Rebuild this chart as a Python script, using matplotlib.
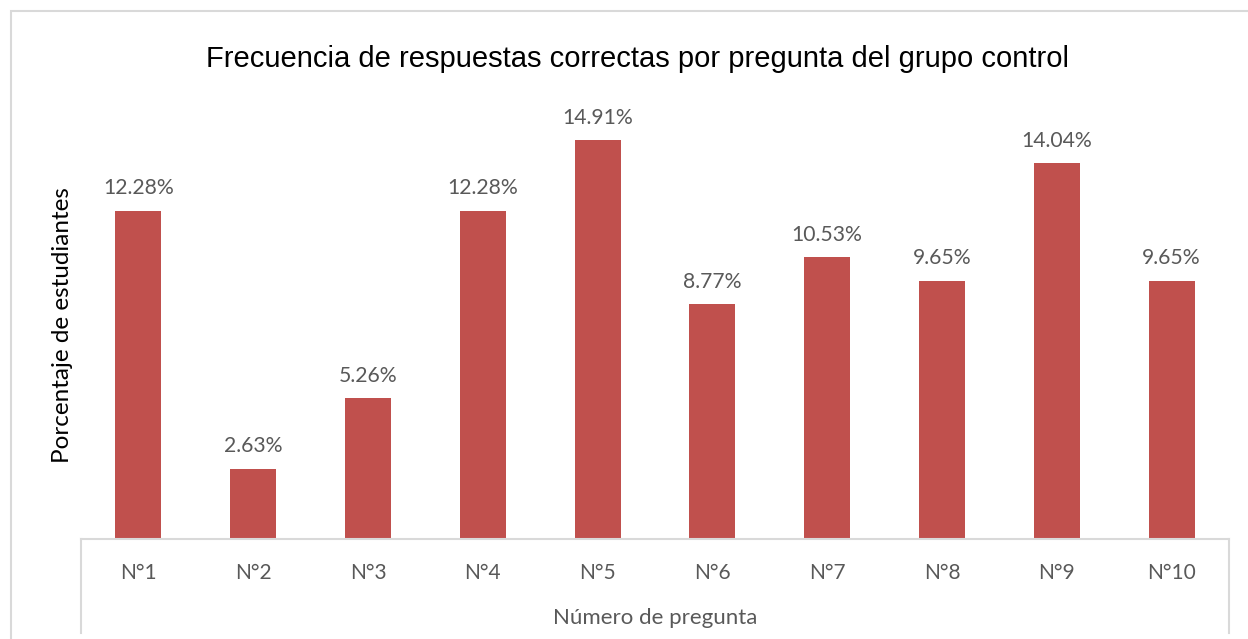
import matplotlib
matplotlib.use("Agg")
import matplotlib.pyplot as plt
from matplotlib.patches import Rectangle
from matplotlib.lines import Line2D

preguntas = ["N°1", "N°2", "N°3", "N°4", "N°5", "N°6", "N°7", "N°8", "N°9", "N°10"]
porcentajes = [12.28, 2.63, 5.26, 12.28, 14.91, 8.77, 10.53, 9.65, 14.04, 9.65]

bar_color = "#C0504D"
text_color = "#595959"
line_color = "#D9D9D9"
label_font = ["Lato", "DejaVu Sans"]

W, H = 1248, 639
fig = plt.figure(figsize=(W / 100, H / 100), dpi=100)

# outer chart border (cropped at right and bottom)
fig.patches.append(Rectangle((11 / W, -0.1), 2, (H - 11) / H + 0.1, transform=fig.transFigure,
                             fill=False, edgecolor=line_color, linewidth=1.5))

ax = fig.add_axes([81 / W, 100 / H, (1229 - 81) / W, (539 - 111) / H])
x = list(range(len(preguntas)))
bars = ax.bar(x, porcentajes, width=0.4, color=bar_color)
ax.set_xlim(-0.5, len(preguntas) - 0.5)
ax.set_ylim(0, 16)

for rect, v in zip(bars, porcentajes):
    ax.annotate("%.2f%%" % v, (rect.get_x() + rect.get_width() / 2, v), xytext=(0, 9),
                textcoords="offset points", ha="center", va="bottom",
                fontsize=15.2, color=text_color, family=label_font)

for s in ["top", "left", "right"]:
    ax.spines[s].set_visible(False)
ax.spines["bottom"].set_color(line_color)
ax.spines["bottom"].set_linewidth(1.5)
ax.set_yticks([])
ax.set_xticks(x)
ax.set_xticklabels(preguntas, fontsize=15, color=text_color, family=label_font)
ax.tick_params(axis="x", length=0, pad=17)

# vertical edges of the category axis area
ext = (633 - 539) / (539 - 111)
for xe in [0, 1]:
    ax.add_line(Line2D([xe, xe], [0, -ext], transform=ax.transAxes, clip_on=False,
                       color=line_color, linewidth=1.5))

fig.text(0.511, 1 - 59 / H, "Frecuencia de respuestas correctas por pregunta del grupo control",
         ha="center", va="center", fontsize=21, family=["Liberation Sans", "DejaVu Sans"], color="black")
fig.text(63 / W, 1 - 325 / H, "Porcentaje de estudiantes", rotation=90, ha="center", va="center",
         fontsize=17.5, family=label_font, color="black")
fig.text(655 / W, 1 - 618 / H, "Número de pregunta", ha="center", va="center",
         fontsize=16, family=label_font, color=text_color)

fig.savefig("out.png", dpi=100)
